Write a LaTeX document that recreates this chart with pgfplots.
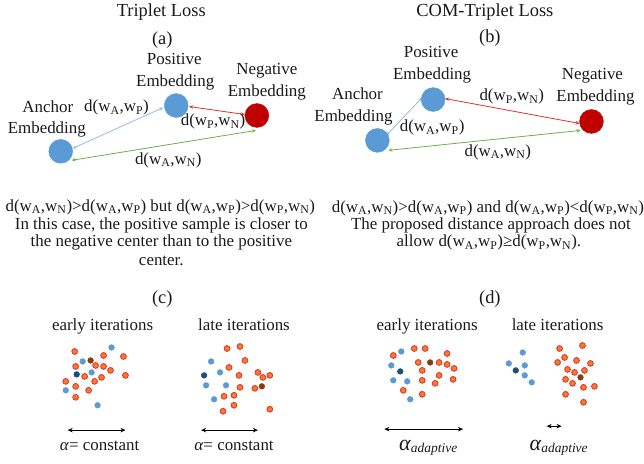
\documentclass[border=0pt]{standalone}
\usepackage{pgfplots}
\pgfplotsset{compat=1.18}
\usepackage{fontspec}
\setmainfont{Liberation Serif}
\usetikzlibrary{arrows.meta}
\definecolor{cBlue}{HTML}{5B9BD5}
\definecolor{cRed}{HTML}{C00000}
\definecolor{aBlue}{HTML}{8FBCE6}
\definecolor{aRed}{HTML}{E0302E}
\definecolor{aGreen}{HTML}{70AD47}
\definecolor{dOrange}{HTML}{F47C30}
\definecolor{dRing}{HTML}{E2392C}
\definecolor{dDark}{HTML}{1F4E79}
\definecolor{dBrown}{HTML}{8B3A0E}
\definecolor{txt}{HTML}{1A1A1A}
\newcommand{\sx}[1]{\textsubscript{#1}}
\newcommand{\dd}[2]{d(w\sx{#1},w\sx{#2})}
\begin{document}
\begin{tikzpicture}[t/.style={anchor=base, inner sep=0pt, font=\fontsize{17}{19}\selectfont, text=txt},
  tt/.style={t, font=\fontsize{18.5}{20}\selectfont}]
\begin{axis}[scale only axis, width=644pt, height=465pt,
  xmin=0, xmax=644, ymin=0, ymax=465, y dir=reverse, hide axis, clip=false,
  big/.style={only marks, mark=*, mark size=12},
  dot/.style={only marks, mark=*, mark size=2.9},
  arr/.style={no markers, line width=0.8pt, {Stealth[length=4pt,width=3.5pt]}-{Stealth[length=4pt,width=3.5pt]}},
  barr/.style={no markers, line width=1.1pt, black, {Stealth[length=5pt,width=4.5pt]}-{Stealth[length=5pt,width=4.5pt]}}]
\path (axis cs:0,0) rectangle (axis cs:644,465);

% ---------- panel (a)
\addplot[big, mark options={fill=cBlue, draw=cBlue}] coordinates {(61,152) (177,106)};
\addplot[big, mark options={fill=cRed, draw=cRed}] coordinates {(258,116)};
\addplot[arr, aBlue] coordinates {(73,149) (164,108)};
\addplot[arr, aRed] coordinates {(190,107) (246,115)};
\addplot[arr, aGreen] coordinates {(72,161) (257,131)};

\node[tt] at (axis cs:162,17) {Triplet Loss};
\node[tt] at (axis cs:163,45) {(a)};
\node[t] at (axis cs:175,65) {Positive};
\node[t] at (axis cs:176,87) {Embedding};
\node[t] at (axis cs:268,75) {Negative};
\node[t] at (axis cs:268,97) {Embedding};
\node[t] at (axis cs:48,113) {Anchor};
\node[t] at (axis cs:47,134) {Embedding};
\node[t] at (axis cs:117,112) {\dd{A}{P}};
\node[t] at (axis cs:214,126) {\dd{P}{N}};
\node[t] at (axis cs:169,165) {\dd{A}{N}};

\node[t] at (axis cs:161,212) {\dd{A}{N}>\dd{A}{P} but \dd{A}{P}>\dd{P}{N}};
\node[t] at (axis cs:162,230) {In this case, the positive sample is closer to};
\node[t] at (axis cs:162,248) {the negative center than to the positive};
\node[t] at (axis cs:162,267) {center.};

% ---------- panel (b)
\addplot[big, mark options={fill=cBlue, draw=cBlue}] coordinates {(379,141) (435,100)};
\addplot[big, mark options={fill=cRed, draw=cRed}] coordinates {(594,122)};
\addplot[arr, aBlue] coordinates {(388,136) (424,98)};
\addplot[arr, aRed] coordinates {(447,99) (582,124)};
\addplot[arr, aGreen] coordinates {(390,151) (583,131)};

\node[tt] at (axis cs:487,17) {COM-Triplet Loss};
\node[tt] at (axis cs:492,43) {(b)};
\node[t] at (axis cs:433,58) {Positive};
\node[t] at (axis cs:434,80) {Embedding};
\node[t] at (axis cs:595,80) {Negative};
\node[t] at (axis cs:598,102) {Embedding};
\node[t] at (axis cs:359,100) {Anchor};
\node[t] at (axis cs:355,122) {Embedding};
\node[t] at (axis cs:514,101) {\dd{P}{N}};
\node[t] at (axis cs:434,132) {\dd{A}{P}};
\node[t] at (axis cs:500,157) {\dd{A}{N}};

\node[t] at (axis cs:490,213) {\dd{A}{N}>\dd{A}{P} and \dd{A}{P}<\dd{P}{N}};
\node[t] at (axis cs:493,230) {The proposed distance approach does not};
\node[t] at (axis cs:491,248) {allow \dd{A}{P}≥\dd{P}{N}.};

% ---------- panel (c)
\node[tt] at (axis cs:163,305) {(c)};
\node[t] at (axis cs:103,332) {early iterations};
\node[t] at (axis cs:245,332) {late iterations};
% early
\addplot[dot, mark options={fill=dOrange, draw=dRing, line width=0.9pt}] coordinates {
(75,353) (104,357) (124,358) (96,367) (104,368) (76,368) (111,372) (85,378)
(102,379) (126,377) (66,383) (76,388) (95,383) (89,392) (76,399)};
\addplot[dot, mark options={fill=cBlue, draw=cBlue}] coordinates {
(112,349) (83,363) (92,374) (66,392) (98,407)};
\addplot[dot, mark options={fill=dDark, draw=dDark}] coordinates {(77,376)};
\addplot[dot, mark options={fill=dBrown, draw=dBrown}] coordinates {(91,362)};
% late
\addplot[dot, mark options={fill=dOrange, draw=dRing, line width=0.9pt}] coordinates {
(228,350) (241,348) (246,362) (230,369) (240,377) (259,374) (264,379) (271,377)
(241,389) (256,390) (225,398) (235,397) (235,407) (224,413) (271,411)};
\addplot[dot, mark options={fill=cBlue, draw=cBlue}] coordinates {
(212,363) (221,374) (207,387) (227,387) (215,401)};
\addplot[dot, mark options={fill=dDark, draw=dDark}] coordinates {(205,377)};
\addplot[dot, mark options={fill=dBrown, draw=dBrown}] coordinates {(263,388)};

\addplot[barr] coordinates {(68,432) (126,432)};
\addplot[barr] coordinates {(202,432) (259,432)};
\node[t] at (axis cs:100,452) {\textit{α}= constant};
\node[t] at (axis cs:235,452) {\textit{α}= constant};

% ---------- panel (d)
\node[tt] at (axis cs:492,305) {(d)};
\node[t] at (axis cs:429,332) {early iterations};
\node[t] at (axis cs:560,332) {late iterations};
% early
\addplot[dot, mark options={fill=dOrange, draw=dRing, line width=0.9pt}] coordinates {
(416,350) (427,350) (395,357) (449,355) (420,364) (441,364) (449,366) (456,370)
(424,372) (441,377) (424,382) (455,381) (437,385) (405,392) (424,396)};
\addplot[dot, mark options={fill=cBlue, draw=cBlue}] coordinates {
(403,353) (393,367) (395,382) (409,383) (412,401)};
\addplot[dot, mark options={fill=dDark, draw=dDark}] coordinates {(402,373)};
\addplot[dot, mark options={fill=dBrown, draw=dBrown}] coordinates {(432,364)};
% late
\addplot[dot, mark options={fill=dOrange, draw=dRing, line width=0.9pt}] coordinates {
(562,350) (585,347) (560,364) (567,359) (579,362) (593,365) (570,371) (577,374)
(587,372) (568,381) (575,385) (586,389) (597,388) (568,396) (586,404)};
\addplot[dot, mark options={fill=cBlue, draw=cBlue}] coordinates {
(525,354) (511,365) (527,367) (527,377) (534,384)};
\addplot[dot, mark options={fill=dDark, draw=dDark}] coordinates {(518,372)};
\addplot[dot, mark options={fill=dBrown, draw=dBrown}] coordinates {(583,379)};

\addplot[barr] coordinates {(386,431) (465,431)};
\addplot[barr] coordinates {(549,428) (564,428)};
\node[t] at (axis cs:430,452) {{\fontsize{22}{22}\selectfont\textit{α}}{\fontsize{13.5}{14}\selectfont\textit{\raisebox{-0.4ex}{adaptive}}}};
\node[t] at (axis cs:561,452) {{\fontsize{22}{22}\selectfont\textit{α}}{\fontsize{13.5}{14}\selectfont\textit{\raisebox{-0.4ex}{adaptive}}}};
\end{axis}
\end{tikzpicture}
\end{document}
